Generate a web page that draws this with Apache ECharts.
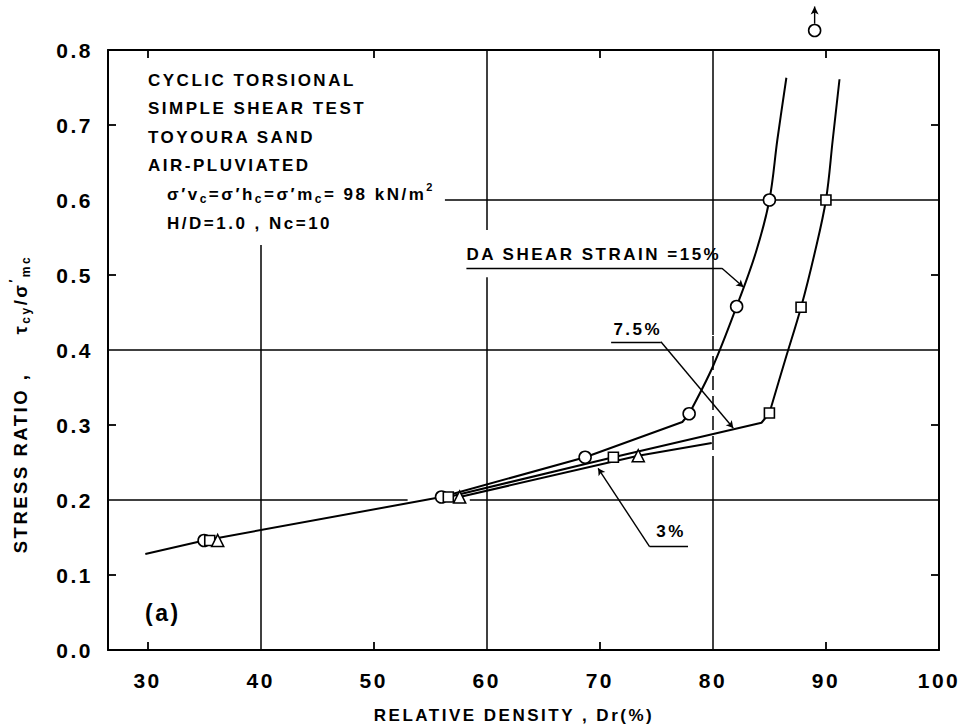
<!DOCTYPE html>
<html>
<head>
<meta charset="utf-8">
<script src="https://cdn.jsdelivr.net/npm/echarts@6.0.0/dist/echarts.min.js"></script>
<style>
html, body { margin: 0; padding: 0; background: #fff; }
#chart { width: 960px; height: 728px; }
#chart text { letter-spacing: 2.5px; }
</style>
</head>
<body>
<div id="chart"></div>
<script>
// ---- tick labels ----
const xTickLabels = [30, 40, 50, 60, 70, 80, 90, 100];
const yTickLabels = [0, 0.1, 0.2, 0.3, 0.4, 0.5, 0.6, 0.7, 0.8];
const xTickMarks = [30, 50, 70, 90];
const yTickMarks = [0.1, 0.3, 0.5, 0.7];

// ---- measured points: [relative density Dr(%), stress ratio] ----
const circles15 = [[35.0, 0.146], [56.0, 0.204], [68.7, 0.257], [77.9, 0.315], [82.1, 0.458], [85.0, 0.600], [89.0, 0.826]];
const squares75 = [[35.5, 0.146], [56.6, 0.204], [71.2, 0.257], [85.0, 0.316], [87.8, 0.457], [90.0, 0.600]];
const triangles3 = [[36.2, 0.146], [57.6, 0.204], [73.4, 0.259]];

// ---- fitted curves as drawn ----
const curve15Lower = [[29.8, 0.128], [35.0, 0.146], [56.0, 0.204], [68.7, 0.257], [77.3, 0.304], [77.9, 0.315]];
const curve15Upper = [[77.9, 0.315], [80.0, 0.378], [82.1, 0.458], [83.8, 0.530], [85.0, 0.600], [85.7, 0.680], [86.5, 0.763]];
const curve75Lower = [[56.6, 0.204], [71.2, 0.257], [84.3, 0.303], [85.0, 0.316]];
const curve75Upper = [[85.0, 0.316], [86.4, 0.387], [87.8, 0.457], [89.0, 0.529], [90.0, 0.600], [90.6, 0.680], [91.2, 0.761]];
const curve3 = [[57.6, 0.204], [73.4, 0.259], [79.9, 0.276]];

const FONT = '"Liberation Sans", Arial, Helvetica, sans-serif';
const INK = '#000';
const LS = 2.5; // letter spacing applied through CSS to svg text

const X_MIN = 26.5, X_MAX = 100, Y_MIN = 0, Y_MAX = 0.8;

function seg(a, b, style) {
  const s = [{ coord: a }, { coord: b }];
  if (style) s[0].lineStyle = style;
  return s;
}

const dashed = { type: [14, 6], width: 1.5, color: INK };

const gridSegments = [
  seg([X_MIN, 0.2], [53.0, 0.2]),
  seg([58.5, 0.2], [X_MAX, 0.2]),
  seg([X_MIN, 0.4], [X_MAX, 0.4]),
  seg([56.3, 0.6], [X_MAX, 0.6]),
  seg([40, 0], [40, 0.54]),
  seg([60, 0], [60, 0.497]),
  seg([60, 0.56], [60, Y_MAX]),
  seg([80, 0], [80, 0.24]),
  seg([80, 0.24], [80, 0.42], dashed),
  seg([80, 0.42], [80, Y_MAX])
];

const leaderSegments = [
  seg([58.2, 0.509], [80.8, 0.509]),
  seg([71.0, 0.411], [75.4, 0.411]),
  seg([77.8, 0.1377], [74.4, 0.1377])
];
const arrowSegments = [
  seg([80.8, 0.509], [82.7, 0.484]),
  seg([75.4, 0.411], [81.8, 0.296]),
  seg([74.4, 0.1377], [69.85, 0.2423])
];

const labelStyle = { fontFamily: FONT, fontWeight: 'bold', fontSize: 17, color: INK, opacity: 1, textBorderWidth: 0 };

function curveSeries(data, smooth) {
  return {
    type: 'line', data: data, symbol: 'none', smooth: smooth ? 0.35 : false,
    lineStyle: { color: INK, width: 2 }, z: 3, silent: true, animation: false
  };
}
function markerSeries(data, symbol, size) {
  return {
    type: 'scatter', data: data, symbol: symbol, symbolSize: size, clip: false,
    itemStyle: { color: '#fff', borderColor: INK, borderWidth: 1.6, opacity: 1 },
    z: 5, silent: true, animation: false
  };
}

const tickLabelStyle = { fontFamily: FONT, fontWeight: 'bold', fontSize: 21, color: INK };

function xAxisCfg(pos, labels) {
  return {
    type: 'value', position: pos, min: X_MIN, max: X_MAX,
    axisLine: { show: true, onZero: false, lineStyle: { color: INK, width: 2 } },
    axisTick: { show: true, inside: true, length: 8, customValues: xTickMarks, lineStyle: { color: INK, width: 1.8 } },
    axisLabel: Object.assign({ show: labels, margin: 20, customValues: xTickLabels }, tickLabelStyle),
    splitLine: { show: false }
  };
}
function yAxisCfg(pos, labels) {
  return {
    type: 'value', position: pos, min: Y_MIN, max: Y_MAX, interval: 0.1,
    axisLine: { show: true, onZero: false, lineStyle: { color: INK, width: 2 } },
    axisTick: { show: true, inside: true, length: 8, customValues: yTickMarks, lineStyle: { color: INK, width: 1.8 } },
    axisLabel: Object.assign({ show: labels, margin: 15, customValues: yTickLabels,
      formatter: v => Number(v).toFixed(1) }, tickLabelStyle),
    splitLine: { show: false }
  };
}

// ---- text runs with sub/superscripts, laid out piece by piece ----
const mctx = document.createElement('canvas').getContext('2d');
const runKinds = {
  n: { size: 17, dy: 0 },
  s: { size: 12, dy: 5 },
  p: { size: 11, dy: -7 },
  N: { size: 18.5, dy: 0 },
  S: { size: 12, dy: 6 },
  P: { size: 12, dy: -6 }
};
function textWidth(str, size) {
  mctx.font = 'bold ' + size + 'px ' + FONT;
  return mctx.measureText(str).width + LS * Array.from(str).length;
}
function textRun(x, y, parts, opts) {
  opts = opts || {};
  const widths = parts.map(p => textWidth(p[0], runKinds[p[1]].size));
  const total = widths.reduce((a, b) => a + b, 0);
  let cx = opts.center ? -total / 2 : 0;
  const children = parts.map((p, i) => {
    const k = runKinds[p[1]];
    const el = {
      type: 'text', x: cx, y: k.dy, silent: true,
      style: { text: p[0], x: 0, y: 0, fontFamily: FONT, fontWeight: 'bold', fontSize: k.size, fill: INK,
        align: 'left', verticalAlign: 'middle' }
    };
    cx += widths[i];
    return el;
  });
  return { type: 'group', x: x, y: y, rotation: opts.rotation || 0, silent: true, children: children };
}
function textLine(x, y, text) {
  return textRun(x, y, [[text, 'n']]);
}

const chart = echarts.init(document.getElementById('chart'), null, { renderer: 'svg' });

const option = {
  animation: false,
  backgroundColor: '#fff',
  grid: { left: 108, right: 21, top: 50, bottom: 78, containLabel: false, outerBoundsMode: 'none' },
  xAxis: [xAxisCfg('bottom', true), xAxisCfg('top', false)],
  yAxis: [yAxisCfg('left', true), yAxisCfg('right', false)],
  graphic: [
    textLine(148, 80, 'CYCLIC TORSIONAL'),
    textLine(148, 108, 'SIMPLE SHEAR TEST'),
    textLine(148, 137, 'TOYOURA SAND'),
    textLine(148, 165, 'AIR-PLUVIATED'),
    textRun(167, 194, [['σ′v', 'n'], ['c', 's'], ['=σ′h', 'n'], ['c', 's'], ['=σ′m', 'n'], ['c', 's'], ['= 98 kN/m', 'n'], ['2', 'p']]),
    textLine(167, 223, 'H/D=1.0 , Nc=10'),
    {
      type: 'text', x: 145, y: 613, silent: true,
      style: { text: '(a)', x: 0, y: 0, fontFamily: FONT, fontWeight: 'bold', fontSize: 23, fill: INK, align: 'left', verticalAlign: 'middle' }
    },
    {
      type: 'text', x: 514, y: 715, silent: true,
      style: { text: 'RELATIVE DENSITY , Dr(%)', x: 0, y: 0, fontFamily: FONT, fontWeight: 'bold', fontSize: 17, fill: INK, align: 'center', verticalAlign: 'middle' }
    },
    textRun(20, 404, [['STRESS RATIO ,     ', 'N'], ['τ', 'N'], ['cy', 'S'], ['/σ', 'N'], ['′', 'P'], ['mc', 'S']], { center: true, rotation: Math.PI / 2 })
  ],
  series: [
    {
      type: 'line', data: [], silent: true, z: 1,
      markLine: {
        silent: true, symbol: 'none', animation: false, label: { show: false },
        lineStyle: { color: INK, width: 1.5, type: 'solid' },
        emphasis: { disabled: true },
        data: gridSegments
      }
    },
    {
      type: 'line', data: [], silent: true, z: 2, clip: false,
      markLine: {
        silent: true, symbol: 'none', animation: false, label: { show: false },
        lineStyle: { color: INK, width: 1.4, type: 'solid' },
        emphasis: { disabled: true },
        data: leaderSegments
      }
    },
    {
      type: 'line', data: [], silent: true, z: 2, clip: false,
      markLine: {
        silent: true, symbol: ['none', 'arrow'], symbolSize: [6, 7], animation: false, label: { show: false },
        lineStyle: { color: INK, width: 1.4, type: 'solid' },
        emphasis: { disabled: true },
        data: arrowSegments
      }
    },
    {
      // arrow marking the off-scale result above the frame
      type: 'line', silent: true, z: 4, clip: false, showSymbol: true, animation: false,
      lineStyle: { color: INK, width: 1.4 }, itemStyle: { color: INK },
      data: [
        { value: [89.0, 0.835], symbol: 'none' },
        { value: [89.0, 0.858], symbol: 'arrow', symbolSize: [6, 8] }
      ]
    },
    curveSeries(curve15Lower, false),
    curveSeries(curve15Upper, true),
    curveSeries(curve75Lower, false),
    curveSeries(curve75Upper, true),
    curveSeries(curve3, false),
    markerSeries(circles15, 'circle', 12),
    markerSeries(squares75, 'rect', 10),
    markerSeries(triangles3, 'triangle', 12),
    {
      type: 'scatter', symbolSize: 0, silent: true, z: 6, clip: false,
      label: Object.assign({ show: true, position: 'right', distance: 0 }, labelStyle),
      data: [
        { value: [58.2, 0.527], label: { formatter: 'DA SHEAR STRAIN =15%' } },
        { value: [71.2, 0.427], label: { formatter: '7.5%' } },
        { value: [75.0, 0.158], label: { formatter: '3%' } }
      ]
    }
  ]
};

chart.setOption(option);
</script>
</body>
</html>
